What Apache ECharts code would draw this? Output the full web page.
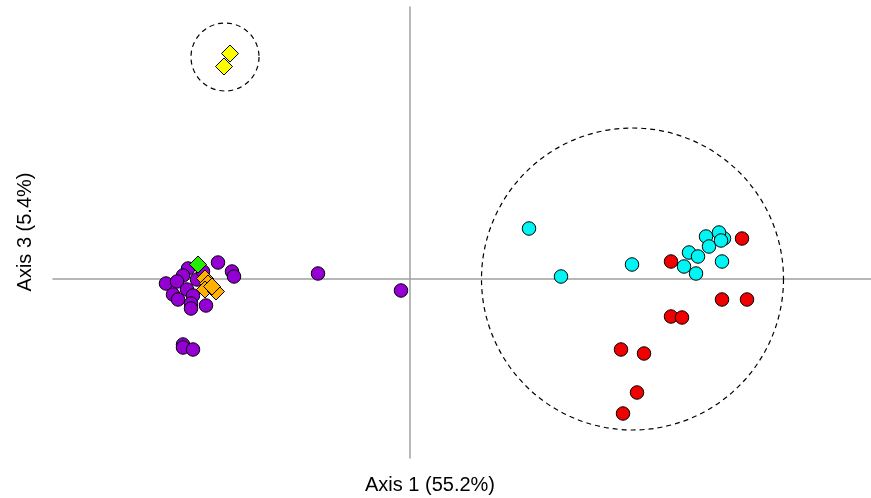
<!DOCTYPE html>
<html>
<head>
<meta charset="utf-8">
<script src="https://cdn.jsdelivr.net/npm/echarts@6/dist/echarts.min.js"></script>
<style>
html,body{margin:0;padding:0;background:#fff;}
#chart{width:871px;height:498px;}
</style>
</head>
<body>
<div id="chart"></div>
<script>
// Axis titles
const xTitle = 'Axis 1 (55.2%)';
const yTitle = 'Axis 3 (5.4%)';

// Point coordinates [Axis 1, Axis 3]
const purplePts = [
  [-0.192, 0.016], [-0.222, 0.010], [-0.178, 0.007], [-0.176, 0.002],
  [-0.227, 0.003], [-0.244, -0.005], [-0.233, -0.003], [-0.213, -0.001],
  [-0.207, 0.007], [-0.237, -0.016], [-0.232, -0.021], [-0.223, -0.011],
  [-0.217, -0.017], [-0.219, -0.025], [-0.219, -0.030], [-0.204, -0.027],
  [-0.227, -0.066], [-0.227, -0.069], [-0.217, -0.071],
  [-0.092, 0.005], [-0.009, -0.012]
];
const greenPts = [[-0.212, 0.014]];
const orangePts = [[-0.205, 0.000], [-0.202, -0.005], [-0.205, -0.011], [-0.194, -0.013], [-0.198, -0.008]];
const yellowPts = [[-0.180, 0.225], [-0.186, 0.212]];
const cyanPts = [
  [0.119, 0.050], [0.151, 0.002], [0.222, 0.014], [0.279, 0.026],
  [0.288, 0.022], [0.274, 0.012], [0.286, 0.005], [0.296, 0.042],
  [0.299, 0.032], [0.314, 0.040], [0.309, 0.046], [0.311, 0.038],
  [0.312, 0.017]
];
const redPts = [
  [0.332, 0.040], [0.261, 0.017], [0.312, -0.021], [0.337, -0.021],
  [0.261, -0.038], [0.272, -0.039], [0.211, -0.071], [0.234, -0.075],
  [0.227, -0.114], [0.213, -0.135]
];
// Dashed ellipses [centre Axis 1, centre Axis 3, radius]
const ellipses = [[-0.185, 0.2215, 0.034], [0.2225, -0.0005, 0.151]];

const colors = {purple:'#9400D3', green:'#22EE00', orange:'#FFB000', yellow:'#FFFF00', cyan:'#00F5F5', red:'#F00000'};

const chart = echarts.init(document.getElementById('chart'));
function sc(name, data, color, symbol){
  return {
    type:'scatter', name, data, symbol, symbolSize: symbol === 'diamond' ? 17 : 13.5,
    itemStyle:{color, borderColor:'#000', borderWidth:1, opacity:1},
    emphasis:{disabled:true}, z: 3
  };
}
const font = '20px "Liberation Sans", Arial, sans-serif';
chart.setOption({
  animation:false,
  backgroundColor:'#fff',
  grid:{left:53, right:0, top:7, bottom:40},
  xAxis:{type:'value', min:-0.357, max:0.461,
    axisLine:{show:true, onZero:true, lineStyle:{color:'#a0a0a0', width:1.5}},
    axisTick:{show:false}, axisLabel:{show:false}, splitLine:{show:false}},
  yAxis:{type:'value', min:-0.1795, max:0.2715,
    axisLine:{show:true, onZero:true, lineStyle:{color:'#a0a0a0', width:1.5}},
    axisTick:{show:false}, axisLabel:{show:false}, splitLine:{show:false}},
  graphic:[
    {type:'text', x:430, y:485, style:{text:xTitle, font, fill:'#000', textAlign:'center', textVerticalAlign:'middle'}},
    {type:'text', x:25, y:232, rotation:Math.PI/2, style:{text:yTitle, font, fill:'#000', textAlign:'center', textVerticalAlign:'middle'}}
  ],
  series:[
    {type:'custom', data:ellipses, z:1, silent:true,
      renderItem:function(params, api){
        const c = api.coord([api.value(0), api.value(1)]);
        const s = api.size([api.value(2), api.value(2)]);
        return {type:'circle', shape:{cx:c[0], cy:c[1], r:s[0]},
          style:{fill:null, stroke:'#000', lineWidth:1.2, lineDash:[5,4]}};
      }},
    sc('purple', purplePts, colors.purple, 'circle'),
    sc('green', greenPts, colors.green, 'diamond'),
    sc('orange', orangePts, colors.orange, 'diamond'),
    sc('yellow', yellowPts, colors.yellow, 'diamond'),
    sc('red', redPts, colors.red, 'circle'),
    sc('cyan', cyanPts, colors.cyan, 'circle')
  ]
});
</script>
</body>
</html>
